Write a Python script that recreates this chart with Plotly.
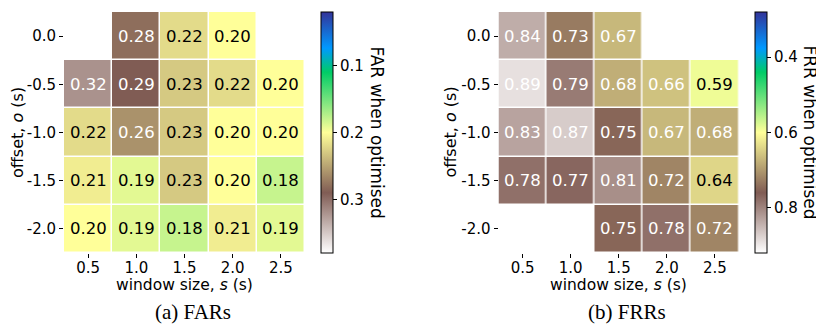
import plotly.graph_objects as go

window_sizes = [0.5, 1.0, 1.5, 2.0, 2.5]
offsets = [0.0, -0.5, -1.0, -1.5, -2.0]
x_tick_labels = ["0.5", "1.0", "1.5", "2.0", "2.5"]
y_tick_labels = ["0.0", "-0.5", "-1.0", "-1.5", "-2.0"]

far_values = [
    [None, 0.28, 0.22, 0.20, None],
    [0.32, 0.29, 0.23, 0.22, 0.20],
    [0.22, 0.26, 0.23, 0.20, 0.20],
    [0.21, 0.19, 0.23, 0.20, 0.18],
    [0.20, 0.19, 0.18, 0.21, 0.19],
]
frr_values = [
    [0.84, 0.73, 0.67, None, None],
    [0.89, 0.79, 0.68, 0.66, 0.59],
    [0.83, 0.87, 0.75, 0.67, 0.68],
    [0.78, 0.77, 0.81, 0.72, 0.64],
    [None, None, 0.75, 0.78, 0.72],
]
far_cbar_ticks = [0.1, 0.2, 0.3]
frr_cbar_ticks = [0.4, 0.6, 0.8]

FAR_RANGE = (0.02, 0.38)
FRR_RANGE = (0.28, 0.92)

# matplotlib "terrain", reversed so that negated values map the same way
terrain_rev = [
    [0.0, "rgb(255,255,255)"],
    [0.25, "rgb(128,92,84)"],
    [0.5, "rgb(255,255,153)"],
    [0.75, "rgb(0,204,102)"],
    [0.85, "rgb(0,153,255)"],
    [1.0, "rgb(51,51,153)"],
]

W, H = 824, 326
PAGE_OFF = 8  # default page body margin
FONT = "DejaVu Sans"


def fx(r):
    return (r - PAGE_OFF) / W


def fy(r):
    return 1 - (r - PAGE_OFF) / H


def neg(m):
    return [[(-v if v is not None else None) for v in row] for row in m]


ydom = [fy(253), fy(12)]
ymid = (ydom[0] + ydom[1]) / 2
panels = [
    dict(z=far_values, rng=FAR_RANGE, ticks=far_cbar_ticks, xdom=[fx(64), fx(305)],
         cbx=fx(321), title="FAR when optimised", titlex=377, white_above=0.25,
         xa="x", ya="y", caption="(a) FARs", ytitlex=17.5),
    dict(z=frr_values, rng=FRR_RANGE, ticks=frr_cbar_ticks, xdom=[fx(498.5), fx(739)],
         cbx=fx(755), title="FRR when optimised", titlex=810, white_above=0.65,
         xa="x2", ya="y2", caption="(b) FRRs", ytitlex=450),
]

fig = go.Figure()
annotations = []
for i, p in enumerate(panels):
    fig.add_trace(go.Heatmap(
        x=window_sizes, y=offsets, z=neg(p["z"]),
        zmin=-p["rng"][1], zmax=-p["rng"][0],
        colorscale=terrain_rev, xgap=1.5, ygap=1.5,
        xaxis=p["xa"], yaxis=p["ya"], hoverongaps=False,
        colorbar=dict(
            x=p["cbx"], xanchor="left", xref="paper", xpad=0, ypad=0,
            y=ymid, yanchor="middle",
            len=ydom[1] - ydom[0], lenmode="fraction",
            thickness=12, outlinewidth=1, outlinecolor="black",
            tickvals=[-t for t in p["ticks"]], ticktext=[f"{t:.1f}" for t in p["ticks"]],
            ticks="outside", ticklen=4, tickcolor="black",
            tickfont=dict(family=FONT, size=15, color="black"),
        ),
    ))
    for r, off in enumerate(offsets):
        for c, ws in enumerate(window_sizes):
            v = p["z"][r][c]
            if v is None:
                continue
            annotations.append(dict(
                x=ws, y=off, xref=p["xa"], yref=p["ya"], text=f"{v:.2f}",
                showarrow=False, xanchor="center", yanchor="middle",
                font=dict(family=FONT, size=16.5,
                          color="white" if v > p["white_above"] else "black"),
            ))
    annotations.append(dict(
        x=fx(p["titlex"]), y=ymid, xref="paper", yref="paper",
        text=p["title"], textangle=90, showarrow=False,
        xanchor="center", yanchor="middle",
        font=dict(family=FONT, size=17, color="black"),
    ))
    annotations.append(dict(
        x=fx(p["ytitlex"]), y=ymid, xref="paper", yref="paper",
        text="offset, <i>o</i> (s)", textangle=-90, showarrow=False,
        xanchor="center", yanchor="middle",
        font=dict(family=FONT, size=16, color="black"),
    ))
    xmid_px = (p["xdom"][0] + p["xdom"][1]) / 2 * W + PAGE_OFF
    annotations.append(dict(
        x=fx(xmid_px), y=fy(285), xref="paper", yref="paper",
        text="window size, <i>s</i> (s)", showarrow=False,
        xanchor="center", yanchor="middle",
        font=dict(family=FONT, size=15.5, color="black"),
    ))
    annotations.append(dict(
        x=fx(xmid_px + 8.5), y=fy(312), xref="paper", yref="paper",
        text=p["caption"], showarrow=False,
        xanchor="center", yanchor="middle",
        font=dict(family="Liberation Serif", size=21, color="black"),
    ))

axis_common = dict(showgrid=False, zeroline=False, showline=False, automargin=False,
                   ticks="outside", ticklen=4, tickcolor="black",
                   tickfont=dict(family=FONT, size=15, color="black"))

fig.update_layout(
    width=W, height=H, margin=dict(l=0, r=0, t=0, b=0, autoexpand=False),
    paper_bgcolor="white", plot_bgcolor="white", showlegend=False,
    xaxis=dict(domain=panels[0]["xdom"], range=[0.25, 2.75], anchor="y",
               tickvals=window_sizes, ticktext=x_tick_labels, ticklabelstandoff=-3,
               **axis_common),
    yaxis=dict(domain=ydom, range=[-2.25, 0.25], anchor="x",
               tickvals=offsets, ticktext=y_tick_labels, **axis_common),
    xaxis2=dict(domain=panels[1]["xdom"], range=[0.25, 2.75], anchor="y2",
                tickvals=window_sizes, ticktext=x_tick_labels, ticklabelstandoff=-3,
                **axis_common),
    yaxis2=dict(domain=ydom, range=[-2.25, 0.25], anchor="x2",
                tickvals=offsets, ticktext=y_tick_labels, **axis_common),
    annotations=annotations,
)

fig.write_html("out.html")
